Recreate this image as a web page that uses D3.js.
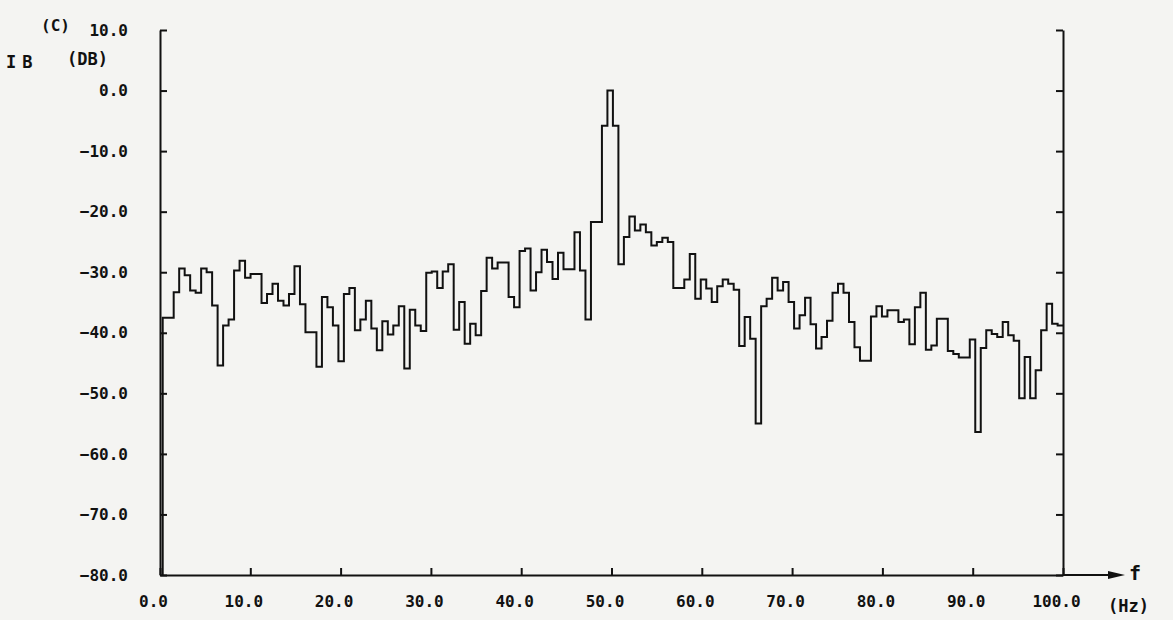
<!DOCTYPE html>
<html>
<head>
<meta charset="utf-8">
<script src="https://cdn.jsdelivr.net/npm/d3@7"></script>
<style>
  body { margin: 0; background: #f4f4f2; }
  svg { display: block; }
  text { font-family: "DejaVu Sans Mono", "Liberation Mono", monospace; fill: #111; font-weight: bold; }
</style>
</head>
<body>
<svg id="chart" width="1173" height="620"></svg>
<script>
// spectrum levels (dB), one per frequency bin
var levels = [
  -37.5, -37.5, -33.3, -29.4, -30.5, -33.0, -33.4, -29.4, -30.0, -35.5,
  -45.4, -38.8, -37.8, -29.7, -28.1, -30.9, -30.3, -30.3, -35.1, -33.6,
  -31.9, -34.7, -35.5, -33.6, -29.0, -35.3, -39.9, -39.9, -45.6, -34.1,
  -35.8, -38.8, -44.7, -33.6, -32.6, -39.6, -37.8, -34.7, -39.3, -42.9,
  -38.1, -40.3, -38.8, -35.6, -45.9, -36.2, -38.8, -39.7, -30.1, -29.9,
  -32.6, -29.9, -28.7, -39.5, -34.9, -41.8, -38.5, -40.4, -33.1, -27.6,
  -29.4, -28.4, -28.4, -34.1, -35.8, -26.5, -26.1, -33.0, -30.0, -26.3,
  -28.3, -31.1, -26.8, -29.5, -29.5, -23.4, -29.7, -37.8, -21.7, -21.7,
  -5.8, 0.0, -5.8, -28.7, -24.2, -20.8, -23.1, -22.1, -23.4, -25.6,
  -25.0, -24.3, -25.0, -32.6, -32.6, -31.2, -27.0, -34.4, -31.2, -32.7,
  -34.9, -32.3, -31.2, -31.9, -32.9, -42.2, -37.4, -41.0, -55.0, -35.6,
  -34.4, -30.9, -33.0, -31.6, -34.9, -39.3, -37.1, -34.2, -38.6, -42.6,
  -40.7, -38.0, -33.4, -31.9, -33.4, -38.2, -42.4, -44.6, -44.6, -37.3,
  -35.6, -37.3, -36.3, -36.3, -38.2, -37.8, -41.9, -35.8, -33.4, -42.8,
  -42.1, -37.7, -37.7, -43.0, -43.5, -44.1, -44.1, -41.1, -56.4, -42.5,
  -39.6, -40.2, -40.7, -38.2, -40.4, -41.3, -50.8, -44.0, -50.8, -46.2,
  -39.6, -35.2, -38.5, -38.8
];
var binStart = 0.3;   // Hz, left edge of first bin
var binWidth = 0.608; // Hz

var xTicks = [0, 10, 20, 30, 40, 50, 60, 70, 80, 90, 100];
var yTicks = [10, 0, -10, -20, -30, -40, -50, -60, -70, -80];

var svg = d3.select("#chart");

var x = d3.scaleLinear().domain([0, 100]).range([160, 1063]);
var y = d3.scaleLinear().domain([-80, 10]).range([575, 30]);

var fmt = d3.format(".1f");

// left axis, ticks pointing inwards
svg.append("g")
  .attr("transform", "translate(160,0)")
  .call(d3.axisLeft(y).tickValues(yTicks).tickFormat(fmt).tickSizeInner(-7).tickSizeOuter(0).tickPadding(32))
  .call(function(g) {
    g.selectAll("path, line").attr("stroke", "#111").attr("stroke-width", 2);
    g.selectAll("text").attr("font-size", 16).attr("font-family", null).attr("fill", "#111");
  });

// right axis, no labels
svg.append("g")
  .attr("transform", "translate(1063,0)")
  .call(d3.axisRight(y).tickValues(yTicks).tickFormat("").tickSizeInner(-7).tickSizeOuter(0))
  .call(function(g) {
    g.selectAll("path, line").attr("stroke", "#111").attr("stroke-width", 2);
  });

// bottom axis
svg.append("g")
  .attr("transform", "translate(0,575)")
  .call(d3.axisBottom(x).tickValues(xTicks).tickFormat(fmt).tickSizeInner(-7).tickSizeOuter(0).tickPadding(21))
  .call(function(g) {
    g.selectAll("path, line").attr("stroke", "#111").attr("stroke-width", 2);
    g.selectAll("text").attr("font-size", 16).attr("font-family", null).attr("fill", "#111").attr("dx", -7);
  });

// arrow extension of the frequency axis
svg.append("line")
  .attr("x1", x(100)).attr("x2", 1114)
  .attr("y1", 575).attr("y2", 575)
  .attr("stroke", "#111").attr("stroke-width", 2);
svg.append("path")
  .attr("d", "M1108,571 L1125,575 L1108,579 Z")
  .attr("fill", "#111");

// step trace
var pts = [{f: binStart, v: -80}];
levels.forEach(function(v, i) {
  pts.push({f: binStart + i * binWidth, v: v});
});
pts.push({f: Math.min(100, binStart + levels.length * binWidth), v: levels[levels.length - 1]});

var line = d3.line()
  .x(function(d) { return x(d.f); })
  .y(function(d) { return y(d.v); })
  .curve(d3.curveStepAfter);

svg.append("path")
  .datum(pts)
  .attr("d", line)
  .attr("fill", "none")
  .attr("stroke", "#111")
  .attr("stroke-width", 2);

// labels
svg.append("text").attr("x", 41).attr("y", 31).attr("font-size", 16).text("(C)");
svg.append("text").attr("x", 6).attr("y", 68).attr("font-size", 17).attr("letter-spacing", 6).text("IB");
svg.append("text").attr("x", 67).attr("y", 65).attr("font-size", 17).text("(DB)");
svg.append("text").attr("x", 1129).attr("y", 580).attr("font-size", 20).text("f");
svg.append("text").attr("x", 1108).attr("y", 612).attr("font-size", 17).text("(Hz)");
</script>
</body>
</html>
